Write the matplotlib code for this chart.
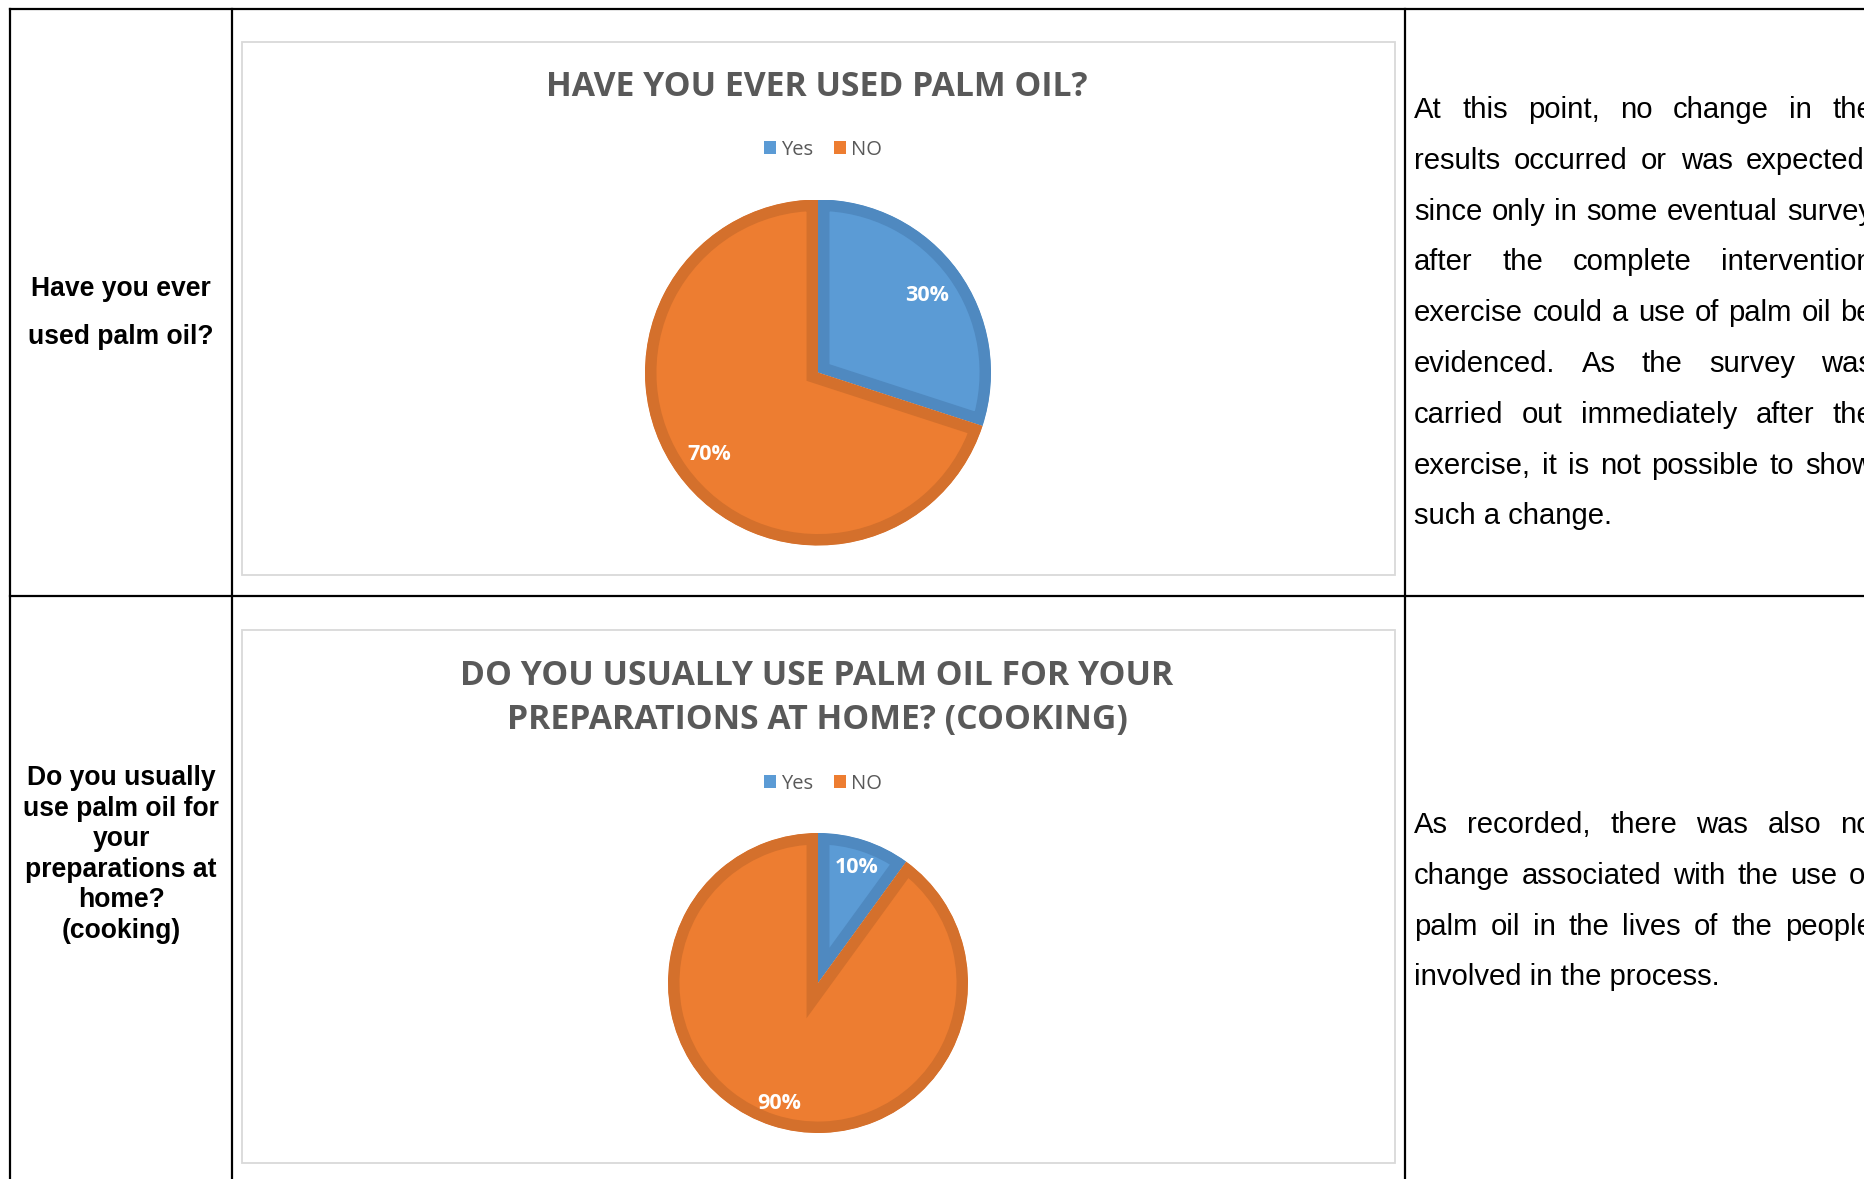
import matplotlib
matplotlib.use("Agg")
import matplotlib.pyplot as plt
from matplotlib.patches import Rectangle, Patch

# ---- data ----
categories = ["Yes", "NO"]
ever_used = [30, 70]
use_at_home = [10, 90]

chart_titles = [
    ["HAVE YOU EVER USED PALM OIL?"],
    ["DO YOU USUALLY USE PALM OIL FOR YOUR", "PREPARATIONS AT HOME? (COOKING)"],
]
row_questions = [
    ["Have you ever", "used palm oil?"],
    ["Do you usually", "use palm oil for", "your", "preparations at", "home?", "(cooking)"],
]
comments = [
    ["At this point, no change in the",
     "results occurred or was expected,",
     "since only in some eventual survey",
     "after the complete intervention",
     "exercise could a use of palm oil be",
     "evidenced. As the survey was",
     "carried out immediately after the",
     "exercise, it is not possible to show",
     "such a change."],
    ["As recorded, there was also no",
     "change associated with the use of",
     "palm oil in the lives of the people",
     "involved in the process."],
]

# ---- style ----
W, H = 1865, 1179
DPI = 100
fills = ["#5B9BD5", "#ED7D31"]
edges = ["#4F89C0", "#D4702C"]
title_gray = "#595959"
box_gray = "#D9D9D9"
chart_font = "Open Sans"
body_font = "Liberation Sans"

fig = plt.figure(figsize=(W / DPI, H / DPI), dpi=DPI)
fig.patch.set_facecolor("white")

# page layer in pixel units (y downwards)
page = fig.add_axes([0, 0, 1, 1])
page.set_xlim(0, W)
page.set_ylim(H, 0)
page.axis("off")

# table grid
lw_grid = 1.6
page.plot([10, W + 5], [9, 9], color="black", lw=lw_grid, solid_capstyle="projecting")
page.plot([10, 10], [9, H + 5], color="black", lw=lw_grid)
page.plot([232, 232], [9, H + 5], color="black", lw=lw_grid)
page.plot([1405, 1405], [9, H + 5], color="black", lw=lw_grid)
page.plot([10, W + 5], [596, 596], color="black", lw=lw_grid)

# chart frames
for top, bottom in [(42, 575), (630, 1163)]:
    page.add_patch(Rectangle((242, top), 1395 - 242, bottom - top, fill=False,
                             edgecolor=box_gray, lw=1.3))

# row questions (first column)
q_fs = 19.1
for lines, y0, dy in [(row_questions[0], 296, 47.6), (row_questions[1], 785, 30.6)]:
    for i, line in enumerate(lines):
        page.text(121, y0 + i * dy, line, ha="center", va="baseline",
                  fontsize=q_fs, fontweight="bold", family=body_font, color="black")

# justified commentary (third column)
renderer = fig.canvas.get_renderer()
c_fs = 21.1


def justified(lines, x0, x1, y0, dy):
    for i, line in enumerate(lines):
        y = y0 + i * dy
        words = line.split()
        if i == len(lines) - 1 or len(words) < 2:
            page.text(x0, y, line, ha="left", va="baseline", fontsize=c_fs,
                      family=body_font, color="black")
            continue
        widths = []
        for w in words:
            t = page.text(0, 0, w, fontsize=c_fs, family=body_font)
            widths.append(t.get_window_extent(renderer).width)
            t.remove()
        gap = (x1 - x0 - sum(widths)) / (len(words) - 1)
        x = x0
        for w, wd in zip(words, widths):
            page.text(x, y, w, ha="left", va="baseline", fontsize=c_fs,
                      family=body_font, color="black")
            x += wd + gap


justified(comments[0], 1414, 1873, 118, 50.8)
justified(comments[1], 1414, 1873, 833, 50.8)

# chart titles
for lines, y0 in [(chart_titles[0], 96), (chart_titles[1], 685)]:
    for i, line in enumerate(lines):
        page.text(817, y0 + i * 44, line, ha="center", va="baseline", fontsize=24.3,
                  fontweight="bold", family=chart_font, color=title_gray)

# legends
handles = [Patch(facecolor=c, edgecolor="none") for c in fills]
for ly in (150, 784):
    fig.legend(handles, categories, loc="center", ncol=2, frameon=False,
               bbox_to_anchor=(823 / W, 1 - ly / H),
               prop={"family": chart_font, "size": 14.5},
               labelcolor=title_gray, handlelength=0.62, handleheight=0.62,
               handletextpad=0.25, columnspacing=1.0, borderpad=0)


def draw_pie(values, cx, cy, r, pctdist):
    ax = fig.add_axes([(cx - r) / W, 1 - (cy + r) / H, 2 * r / W, 2 * r / H])
    wedges, _, autotexts = ax.pie(
        values, colors=fills, startangle=90, counterclock=False, radius=1,
        autopct="%.0f%%", pctdistance=pctdist,
        wedgeprops=dict(linewidth=16.5),
        textprops=dict(color="white", fontweight="bold", family=chart_font, fontsize=15.5),
    )
    for w, ec in zip(wedges, edges):
        w.set_edgecolor(ec)
        w.set_joinstyle("miter")
        # keep the outline inside its own slice
        w.set_clip_on(True)
        w.set_clip_path(w.get_path(), w.get_transform())
    for t in autotexts:
        t.set_va("center_baseline")
    ax.set_xlim(-1, 1)
    ax.set_ylim(-1, 1)
    ax.axis("off")
    return ax


draw_pie(ever_used, 818, 372.5, 173, 0.78)
draw_pie(use_at_home, 818, 983, 150, 0.83)

fig.savefig("out.png", dpi=DPI, facecolor="white")
